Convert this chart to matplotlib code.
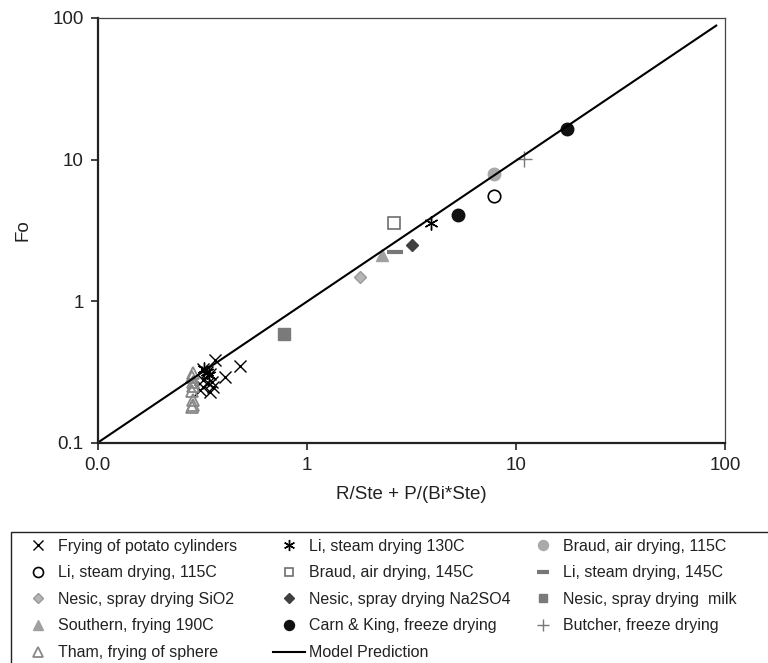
import matplotlib.pyplot as plt
from matplotlib.patches import Rectangle

plt.rcParams['font.family'] = ['Liberation Sans', 'DejaVu Sans']

#data
frying_x = [0.364, 0.480, 0.406, 0.320, 0.332, 0.344, 0.320, 0.351, 0.338, 0.320, 0.357, 0.309, 0.344]
frying_y = [0.382, 0.347, 0.292, 0.334, 0.316, 0.308, 0.276, 0.269, 0.262, 0.248, 0.248, 0.235, 0.229]

li130_x = [0.322, 0.333, 0.340, 3.94]
li130_y = [0.330, 0.318, 0.300, 3.58]

braud115_x = [7.87]
braud115_y = [7.92]

li115_x = [7.87]
li115_y = [5.55]

braud145_x = [2.62]
braud145_y = [3.58]

li145_x = [2.65]
li145_y = [2.24]

sio2_x = [1.79]
sio2_y = [1.47]

na2so4_x = [3.19]
na2so4_y = [2.51]

milk_x = [0.776]
milk_y = [0.589]

southern_x = [2.28]
southern_y = [2.11]

carn_x = [5.30, 17.6]
carn_y = [4.07, 16.4]

butcher_x = [10.96]
butcher_y = [10.09]

tham_x = [0.285, 0.284, 0.286, 0.285, 0.284, 0.285, 0.285, 0.284]
tham_y = [0.310, 0.290, 0.270, 0.250, 0.230, 0.200, 0.185, 0.180]

model_x = [0.1, 90.8]
model_y = [0.1, 88.4]

x_ticks = [0.1, 1, 10, 100]
x_tick_labels = ['0.0', '1', '10', '100']
y_ticks = [0.1, 1, 10, 100]
y_tick_labels = ['0.1', '1', '10', '100']

fig = plt.figure(figsize=(7.68, 6.63), dpi=100)
ax = fig.add_axes([97.7/768, 1-442.7/663, 627.3/768, 424.7/663])

ms = 9
h_fry, = ax.plot(frying_x, frying_y, 'x', color='black', ms=ms, mew=1.0, label='Frying of potato cylinders')
h_li130, = ax.plot(li130_x, li130_y, marker=(6, 2, 0), ls='none', color='black', ms=ms+1, mew=1.0, label='Li, steam drying 130C')
h_b115, = ax.plot(braud115_x, braud115_y, 'o', color='#a9a9a9', mec='#a9a9a9', ms=ms, label='Braud, air drying, 115C')
h_li115, = ax.plot(li115_x, li115_y, 'o', mfc='white', mec='black', ms=ms, mew=1.2, label='Li, steam drying, 115C')
h_b145, = ax.plot(braud145_x, braud145_y, 's', mfc='white', mec='#6e6e6e', ms=ms-1, mew=1.2, label='Braud, air drying, 145C')
h_li145, = ax.plot(li145_x, li145_y, '_', color='#777777', ms=ms+2, mew=3, label='Li, steam drying, 145C')
h_sio2, = ax.plot(sio2_x, sio2_y, 'D', color='#b5b5b5', mec='#9a9a9a', ms=ms-2.5, label='Nesic, spray drying SiO2')
h_na, = ax.plot(na2so4_x, na2so4_y, 'D', color='#404040', mec='#404040', ms=ms-2.5, label='Nesic, spray drying Na2SO4')
h_milk, = ax.plot(milk_x, milk_y, 's', color='#7a7a7a', mec='#7a7a7a', ms=ms-1, label='Nesic, spray drying  milk')
h_south, = ax.plot(southern_x, southern_y, '^', color='#a0a0a0', mec='#a0a0a0', ms=ms, label='Southern, frying 190C')
h_carn, = ax.plot(carn_x, carn_y, 'o', color='#111111', ms=ms, label='Carn & King, freeze drying')
h_butch, = ax.plot(butcher_x, butcher_y, '+', color='#777777', ms=ms+2, mew=1.0, label='Butcher, freeze drying')
h_tham, = ax.plot(tham_x, tham_y, '^', mfc='none', mec='#888888', ms=ms, mew=1.3, label='Tham, frying of sphere')
h_model, = ax.plot(model_x, model_y, '-', color='black', lw=1.5, label='Model Prediction')

ax.set_xscale('log')
ax.set_yscale('log')
ax.set_xlim(0.1, 100)
ax.set_ylim(0.1, 100)
ax.set_xticks(x_ticks, x_tick_labels)
ax.set_yticks(y_ticks, y_tick_labels)
ax.minorticks_off()
ax.tick_params(labelsize=13.5, length=5, width=1.2, direction='out', pad=5, colors='#222222')

for side in ['left', 'bottom']:
    ax.spines[side].set_linewidth(1.6)
    ax.spines[side].set_color('#222222')
for side in ['top', 'right']:
    ax.spines[side].set_linewidth(0.9)
    ax.spines[side].set_color('#444444')

ax.set_xlabel('R/Ste + P/(Bi*Ste)', fontsize=13.5, color='#222222')
ax.xaxis.set_label_coords(0.5, -0.102)
ax.set_ylabel('Fo', fontsize=13.5, color='#222222')
ax.yaxis.set_label_coords(-0.105, 0.5)

#legend, one per column so the columns land where they do in the original
cols = [
    ([h_fry, h_li115, h_sio2, h_south, h_tham], 22),
    ([h_li130, h_b145, h_na, h_carn, h_model], 273),
    ([h_b115, h_li145, h_milk, h_butch], 527),
]
for handles, x0 in cols:
    fig.legend(handles=handles, loc='upper left', bbox_to_anchor=(x0/768, 1-538.5/663),
               frameon=False, fontsize=11.5, markerscale=0.8, handlelength=2.0,
               handletextpad=0.25, labelspacing=0.73, borderpad=0, borderaxespad=0,
               labelcolor='#222222')

#legend box runs past the right and bottom edge
fig.patches.append(Rectangle((11/768, -0.1), 1.2, 0.1 + 1-532/663, transform=fig.transFigure,
                             fill=False, edgecolor='#222222', lw=1.0, clip_on=False))

plt.savefig('out.png', dpi=100)
